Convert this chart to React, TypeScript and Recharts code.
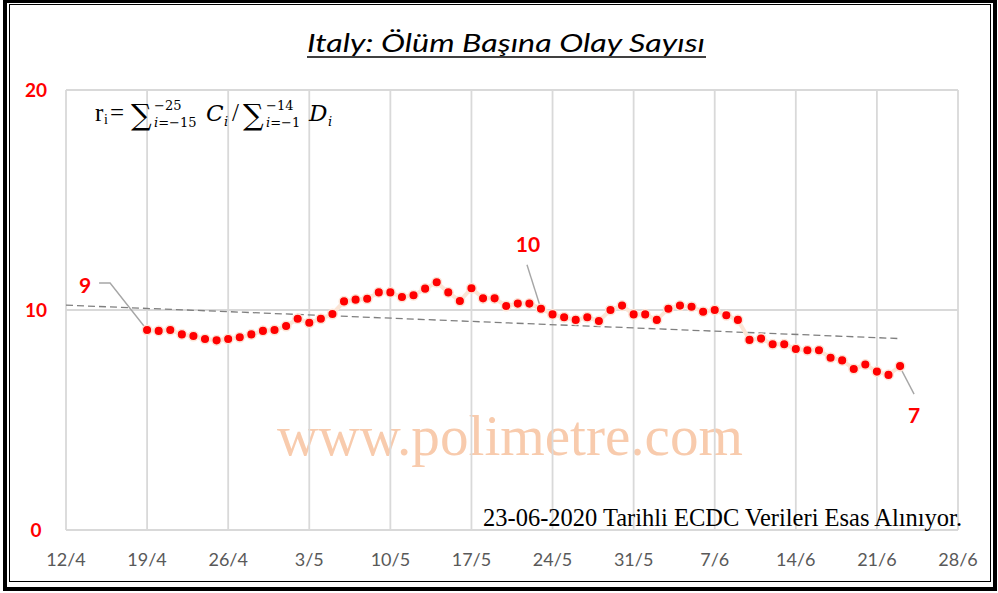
import { LineChart, Line, XAxis, YAxis, CartesianGrid } from "recharts"

// day 0 = 12/4
const tickDays = [0, 7, 14, 21, 28, 35, 42, 49, 56, 63, 70, 77]
const tickLabels = ["12/4", "19/4", "26/4", "3/5", "10/5", "17/5", "24/5", "31/5", "7/6", "14/6", "21/6", "28/6"]
const yTicks = [0, 10, 20]

// events per death, daily from 19/4 (day 7) to 23/6 (day 72)
const firstDay = 7
const ratios = [
  9.09, 9.05, 9.09, 8.89, 8.82, 8.68, 8.62, 8.68, 8.76, 8.89, 9.05, 9.09,
  9.27, 9.6, 9.42, 9.6, 9.82, 10.39, 10.47, 10.51, 10.8, 10.8, 10.59, 10.67,
  10.97, 11.26, 10.8, 10.41, 10.99, 10.53, 10.53, 10.18, 10.29, 10.29, 10.06,
  9.8, 9.67, 9.55, 9.67, 9.5, 10.0, 10.2, 9.8, 9.8, 9.55, 10.06, 10.2, 10.15,
  9.92, 10.0, 9.76, 9.55, 8.64, 8.7, 8.44, 8.44, 8.23, 8.17, 8.17, 7.83, 7.71,
  7.32, 7.52, 7.2, 7.05, 7.45,
]

// linear trend (dashed) end points
const trendDays = [0, 72]
const trendValues = [10.22, 8.7]

// points carrying a value label
const labelDays = [7, 41, 72]

const labelLayout: Record<number, { tx: number; ty: number; path: number[][] }> = {
  7: { tx: -62, ty: -37, path: [[0, 0], [-37, -47], [-48, -47]] },
  41: { tx: -13, ty: -57, path: [[-1, -3], [-14, -44]] },
  72: { tx: 14, ty: 57, path: [[1, 3], [14, 28]] },
}

const rows: { day: number; ratio: number | null; trend: number | null }[] = []
const allDays = Array.from(new Set([...trendDays, ...ratios.map((_, i) => i + firstDay)])).sort((a, b) => a - b)
allDays.forEach((day) => {
  const ri = day - firstDay
  const ti = trendDays.indexOf(day)
  rows.push({
    day,
    ratio: ri >= 0 && ri < ratios.length ? ratios[ri] : null,
    trend: ti >= 0 ? trendValues[ti] : null,
  })
})

const RED = "#FF0000"

function Dot(props: any) {
  const { cx, cy, payload } = props
  if (cx == null || cy == null || payload.ratio == null) return <g key={props.index} />
  const lbl = labelDays.includes(payload.day) ? labelLayout[payload.day] : null
  return (
    <g key={props.index}>
      {lbl && (
        <>
          <polyline
            points={lbl.path.map(([dx, dy]) => `${cx + dx},${cy + dy}`).join(" ")}
            fill="none"
            stroke="#A6A6A6"
            strokeWidth={1.4}
          />
          <text
            x={cx + lbl.tx}
            y={cy + lbl.ty}
            textAnchor="middle"
            fill={RED}
            fontFamily="Lato, 'Open Sans', sans-serif"
            fontWeight={700}
            fontSize={21}
          >
            {Math.round(payload.ratio)}
          </text>
        </>
      )}
      <circle cx={cx} cy={cy} r={4.8} fill={RED} stroke="#FCE4D6" strokeWidth={1.5} />
    </g>
  )
}

const XTick = (props: any) => {
  const { x, payload } = props
  const i = tickDays.indexOf(payload.value)
  return (
    <text x={x} y={566} textAnchor="middle" fill="#595959" fontFamily="Lato, sans-serif" fontSize={18}>
      {tickLabels[i]}
    </text>
  )
}

const YTick = (props: any) => {
  const { y, payload } = props
  return (
    <text x={36} y={y + 7} textAnchor="middle" fill={RED} fontFamily="Lato, sans-serif" fontWeight={700} fontSize={19}>
      {payload.value}
    </text>
  )
}

const serif = "'Liberation Serif', 'DejaVu Serif', serif"
const mathSerif = "'DejaVu Serif', serif"

export default function App() {
  return (
    <div style={{ position: "absolute", left: 0, top: 0, width: 998, height: 593, background: "#fff", overflow: "hidden" }}>
      <svg width={998} height={593} style={{ position: "absolute", left: 0, top: 0 }}>
        <text x={277} y={455} fontFamily={serif} fontSize={56} fill="#F8CBAD" textLength={466} lengthAdjust="spacingAndGlyphs">
          www.polimetre.com
        </text>
      </svg>
      <div style={{ position: "absolute", left: 0, top: 0 }}>
        <LineChart width={998} height={593} data={rows} margin={{ top: 90, right: 40, left: 26, bottom: 33 }}>
          <CartesianGrid stroke="#D9D9D9" strokeWidth={1.8} />
          <XAxis
            dataKey="day"
            type="number"
            domain={[0, 77]}
            ticks={tickDays}
            interval={0}
            axisLine={false}
            tickLine={false}
            height={30}
            tick={<XTick />}
          />
          <YAxis domain={[0, 20]} ticks={yTicks} axisLine={false} tickLine={false} width={40} tick={<YTick />} />
          <Line
            dataKey="trend"
            connectNulls
            stroke="#7F7F7F"
            strokeWidth={1.3}
            strokeDasharray="7 4"
            dot={false}
            activeDot={false}
            isAnimationActive={false}
          />
          <Line
            dataKey="ratio"
            stroke="#FBE5D6"
            strokeWidth={4}
            dot={<Dot />}
            activeDot={false}
            isAnimationActive={false}
          />
        </LineChart>
      </div>
      <svg width={998} height={593} style={{ position: "absolute", left: 0, top: 0, pointerEvents: "none" }}>
        <rect x={5} y={1} width={990} height={588} fill="none" stroke="#000" strokeWidth={4} />
        <rect x={9.5} y={4.5} width={981} height={577} fill="none" stroke="#000" strokeWidth={1} />
        <text
          x={307}
          y={52}
          fontFamily="Lato, 'Open Sans', sans-serif"
          fontStyle="italic"
          fontSize={25}
          fill="#000"
          textLength={398}
          lengthAdjust="spacingAndGlyphs"
        >
          Italy: Ölüm Başına Olay Sayısı
        </text>
        <line x1={307} y1={57} x2={706} y2={57} stroke="#000" strokeWidth={1.6} />
        <g fill="#000">
          <text x={95} y={121} fontSize={25} fontFamily={serif}>r</text>
          <text x={104} y={124} fontSize={14} fontFamily={serif}>i</text>
          <text x={110} y={121} fontSize={25} fontFamily={serif}>=</text>
          <text x={131} y={125} fontSize={29} fontFamily={mathSerif}>∑</text>
          <text x={154} y={110} fontSize={13} fontFamily={mathSerif}>−25</text>
          <text x={154} y={127} fontSize={13} fontFamily={mathSerif}><tspan fontStyle="italic">i</tspan>=−15</text>
          <text x={206} y={121} fontSize={23} fontStyle="italic" fontFamily={mathSerif}>C</text>
          <text x={224} y={126} fontSize={13} fontStyle="italic" fontFamily={mathSerif}>i</text>
          <text x={232} y={121} fontSize={25} fontFamily={serif}>/</text>
          <text x={243} y={125} fontSize={29} fontFamily={mathSerif}>∑</text>
          <text x={266} y={110} fontSize={13} fontFamily={mathSerif}>−14</text>
          <text x={266} y={127} fontSize={13} fontFamily={mathSerif}><tspan fontStyle="italic">i</tspan>=−1</text>
          <text x={309} y={121} fontSize={23} fontStyle="italic" fontFamily={mathSerif}>D</text>
          <text x={328} y={126} fontSize={13} fontStyle="italic" fontFamily={mathSerif}>i</text>
        </g>
        <text x={483} y={526} fontFamily={serif} fontSize={25} fill="#000" textLength={479} lengthAdjust="spacingAndGlyphs">
          23-06-2020 Tarihli ECDC Verileri Esas Alınıyor.
        </text>
      </svg>
    </div>
  )
}
